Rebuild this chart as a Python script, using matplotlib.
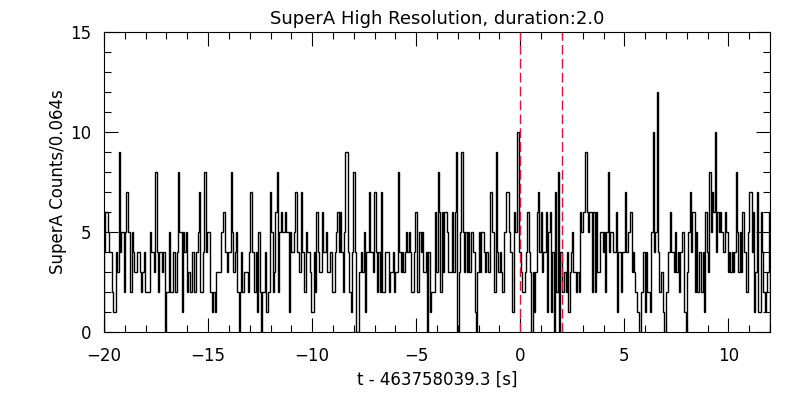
import numpy as np
import matplotlib
matplotlib.use('Agg')
import matplotlib.pyplot as plt
from matplotlib.ticker import MultipleLocator

# SuperA counts per 0.064 s bin, left to right
counts = [
    4, 6, 6, 5, 4, 4, 2, 1, 1, 4, 3, 9, 4, 5, 5, 2, 5, 7, 5, 5,
    2, 5, 4, 3, 3, 4, 4, 3, 2, 3, 4, 2, 2, 2, 2, 5, 4, 4, 3, 8,
    4, 2, 4, 4,
    3, 4, 0, 2, 2, 5, 2, 2, 4, 4, 2, 4, 8, 5, 5, 1, 5, 4, 5, 2,
    3, 2, 2, 4, 2, 2, 4, 5, 7, 2, 2, 4, 8, 4, 5, 5, 2, 2, 1, 2,
    1, 3, 3, 3, 3, 5, 6,
    6, 4, 3, 4, 4, 8, 5, 3, 4, 5, 2, 0, 2, 4, 2, 3, 3, 3, 2, 4,
    7, 4, 4, 2, 4, 1, 5, 2, 0, 2, 2, 4, 1, 2, 2, 7, 5, 2, 3, 6,
    8, 2, 5, 6, 5, 5,
    6, 5, 5, 1, 5, 4, 4, 5, 7, 4, 4, 3, 7, 4, 4, 2, 5, 4, 4, 3,
    1, 1, 4, 2, 6, 4, 3, 3, 6, 4, 4, 5, 3, 3, 4, 4, 2, 2, 4, 5,
    6, 4, 6, 4, 2, 5, 9,
    9, 4, 2, 1, 4, 8, 4, 0, 0, 3, 3, 4, 3, 5, 1, 4, 4, 7, 4, 4,
    3, 7, 4, 2, 4, 2, 7, 2, 2, 4, 4, 4, 2, 3, 3, 4, 2, 3, 3, 8,
    4, 3, 4, 3, 4, 5,
    4, 5, 4, 2, 2, 4, 6, 2, 2, 5, 4, 5, 3, 3, 4, 0, 4, 1, 2, 2,
    2, 6, 3, 8, 6, 2, 6, 3, 6, 6, 5, 3, 3, 3, 6, 3, 6, 9, 0, 3,
    5, 9, 5, 3, 5, 3, 5,
    3, 5, 5, 4, 1, 0, 3, 5, 3, 5, 5, 4, 3, 4, 3, 3, 7, 5, 5, 2,
    9, 4, 3, 4, 3, 2, 5, 5, 7, 7, 5, 4, 1, 1, 6, 5, 10, 10, 4, 3,
    2, 2, 3, 4, 6, 4, 3, 0,
    3, 1, 3, 6, 7, 4, 6, 3, 4, 4, 6, 1, 5, 6, 1, 4, 0, 7, 2, 8,
    0, 4, 2, 2, 3, 2, 4, 1, 3, 4, 5, 3, 3, 2, 3, 2, 6, 5, 6, 6,
    9, 6, 5, 6, 6, 2,
    6, 2, 6, 3, 3, 5, 5, 4, 5, 2, 5, 8, 4, 5, 5, 4, 4, 6, 1, 4,
    4, 2, 4, 4, 7, 4, 5, 5, 6, 3, 4, 3, 2, 1, 1, 0, 2, 2, 4, 1,
    4, 2, 2, 1, 5, 10, 4, 5, 12,
    4, 2, 3, 3, 1, 0, 2, 2, 4, 6, 4, 4, 3, 5, 3, 4, 2, 4, 5, 5,
    1, 0, 3, 5, 7, 4, 6, 6, 2, 5, 2, 4, 4, 2, 4, 1, 6, 4, 3, 8,
    5, 7, 6, 10, 4, 6, 5,
    6, 5, 4, 4, 6, 5, 3, 4, 3, 4, 3, 4, 8, 5, 3, 5, 3, 6, 4, 4,
    2, 5, 7, 7, 4, 6, 1, 3, 7, 1, 1, 6, 4, 2, 1, 2, 3, 6,
]
t_start, t_stop = -20.0, 12.0
trigger_t = 0.0
duration = 2.0

edges = np.linspace(t_start, t_stop, len(counts) + 1)

fig = plt.figure(figsize=(8, 4), dpi=100)
ax = fig.add_axes([0.13, 0.17, 0.8325, 0.75])

ax.stairs(counts, edges, color='black', linewidth=1.0)

# start / end of the burst window
for t in (trigger_t, trigger_t + duration):
    ax.axvline(t, color='#dc143c', linewidth=1.0, linestyle=(0, (7, 3)))

ax.set_xlim(t_start, t_stop)
ax.set_ylim(0, 15)
ax.xaxis.set_major_locator(MultipleLocator(5))
ax.xaxis.set_minor_locator(MultipleLocator(1))
ax.yaxis.set_major_locator(MultipleLocator(5))
ax.yaxis.set_minor_locator(MultipleLocator(1))
ax.tick_params(which='both', direction='in', top=True, right=True,
               labelsize=12, width=0.8)
ax.tick_params(which='major', length=10)
ax.tick_params(which='minor', length=5)
ax.tick_params(axis='x', pad=11)
ax.tick_params(axis='y', pad=9)
for s in ax.spines.values():
    s.set_linewidth(0.8)

ax.set_title('SuperA High Resolution, duration:2.0', fontsize=13, pad=6)
ax.set_xlabel('t - 463758039.3 [s]', fontsize=12, labelpad=4)
ax.set_ylabel('SuperA Counts/0.064s', fontsize=12)
ax.yaxis.set_label_coords(-0.056, 0.5)

fig.savefig('out.png', dpi=100)
